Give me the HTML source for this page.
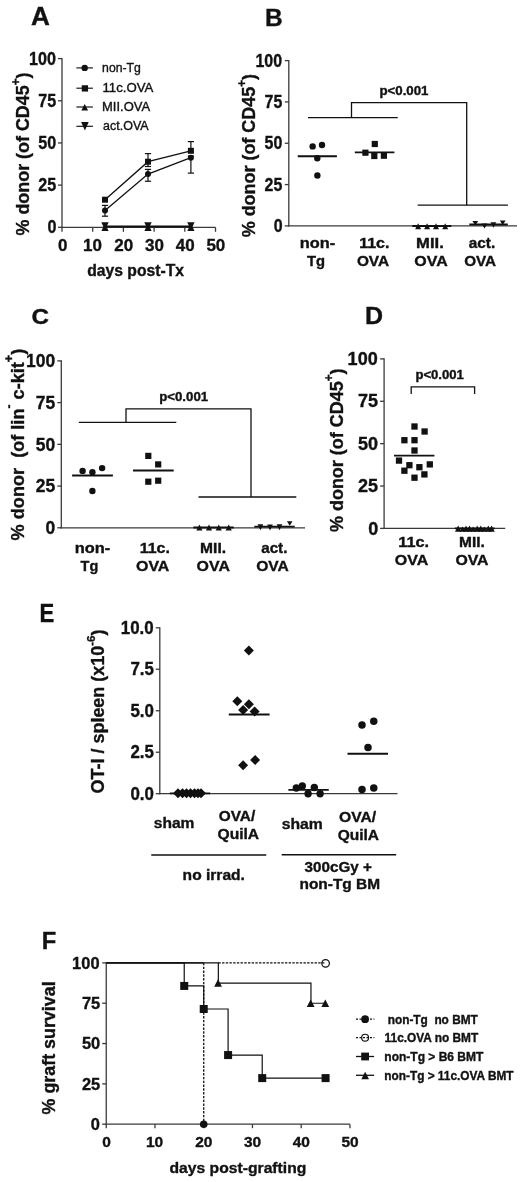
<!DOCTYPE html>
<html><head><meta charset="utf-8"><title>Figure</title>
<style>
html,body{margin:0;padding:0;background:#fff;}
svg{display:block;}
text{font-family:"Liberation Sans", Arial, sans-serif; fill:#111; stroke:#111; stroke-width:0.35px; paint-order:stroke;}
</style></head>
<body>
<svg width="520" height="1182" viewBox="0 0 520 1182">
<rect width="520" height="1182" fill="#fff"/>
<text x="31.08" y="25.00" font-size="25.5" font-weight="bold" textLength="18.86" lengthAdjust="spacingAndGlyphs">A</text>
<line x1="62.00" y1="58.00" x2="62.00" y2="227.90" stroke="#3a3a3a" stroke-width="1.3"/>
<line x1="58.00" y1="58.60" x2="62.00" y2="58.60" stroke="#3a3a3a" stroke-width="1.3"/>
<text x="29.02" y="64.73" font-size="17.5" font-weight="bold" textLength="26.87" lengthAdjust="spacingAndGlyphs">100</text>
<line x1="58.00" y1="100.77" x2="62.00" y2="100.77" stroke="#3a3a3a" stroke-width="1.3"/>
<text x="38.22" y="106.90" font-size="17.5" font-weight="bold" textLength="17.91" lengthAdjust="spacingAndGlyphs">75</text>
<line x1="58.00" y1="142.95" x2="62.00" y2="142.95" stroke="#3a3a3a" stroke-width="1.3"/>
<text x="38.22" y="149.08" font-size="17.5" font-weight="bold" textLength="17.91" lengthAdjust="spacingAndGlyphs">50</text>
<line x1="58.00" y1="185.12" x2="62.00" y2="185.12" stroke="#3a3a3a" stroke-width="1.3"/>
<text x="38.22" y="191.25" font-size="17.5" font-weight="bold" textLength="17.91" lengthAdjust="spacingAndGlyphs">25</text>
<line x1="58.00" y1="227.30" x2="62.00" y2="227.30" stroke="#3a3a3a" stroke-width="1.3"/>
<text x="47.42" y="233.43" font-size="17.5" font-weight="bold" textLength="8.96" lengthAdjust="spacingAndGlyphs">0</text>
<line x1="61.40" y1="227.30" x2="215.50" y2="227.30" stroke="#3a3a3a" stroke-width="1.3"/>
<line x1="62.00" y1="227.30" x2="62.00" y2="231.80" stroke="#3a3a3a" stroke-width="1.3"/>
<text x="57.90" y="250.50" font-size="17" font-weight="bold" textLength="9.47" lengthAdjust="spacingAndGlyphs">0</text>
<line x1="92.70" y1="227.30" x2="92.70" y2="231.80" stroke="#3a3a3a" stroke-width="1.3"/>
<text x="83.10" y="250.50" font-size="17" font-weight="bold" textLength="18.92" lengthAdjust="spacingAndGlyphs">10</text>
<line x1="123.40" y1="227.30" x2="123.40" y2="231.80" stroke="#3a3a3a" stroke-width="1.3"/>
<text x="114.30" y="250.50" font-size="17" font-weight="bold" textLength="18.92" lengthAdjust="spacingAndGlyphs">20</text>
<line x1="154.10" y1="227.30" x2="154.10" y2="231.80" stroke="#3a3a3a" stroke-width="1.3"/>
<text x="145.00" y="250.50" font-size="17" font-weight="bold" textLength="18.92" lengthAdjust="spacingAndGlyphs">30</text>
<line x1="184.80" y1="227.30" x2="184.80" y2="231.80" stroke="#3a3a3a" stroke-width="1.3"/>
<text x="175.70" y="250.50" font-size="17" font-weight="bold" textLength="18.92" lengthAdjust="spacingAndGlyphs">40</text>
<line x1="215.50" y1="227.30" x2="215.50" y2="231.80" stroke="#3a3a3a" stroke-width="1.3"/>
<text x="206.40" y="250.50" font-size="17" font-weight="bold" textLength="18.92" lengthAdjust="spacingAndGlyphs">50</text>
<text x="87.20" y="275.60" font-size="16" font-weight="bold" textLength="96.77" lengthAdjust="spacingAndGlyphs">days post-Tx</text>
<text x="-235.50" y="0" font-size="19" font-weight="bold" textLength="163.07" lengthAdjust="spacingAndGlyphs" transform="translate(29.00,0) rotate(-90)">% donor (of CD45<tspan font-size="12.5" dy="-9.5">+</tspan><tspan dy="9.5">)</tspan></text>
<line x1="76.40" y1="67.90" x2="92.90" y2="67.90" stroke="#111" stroke-width="1.15"/>
<circle cx="84.70" cy="67.90" r="3.2" fill="#111"/>
<line x1="76.40" y1="88.20" x2="92.90" y2="88.20" stroke="#111" stroke-width="1.15"/>
<rect x="81.75" y="85.25" width="6.3" height="6.3" fill="#111"/>
<line x1="76.40" y1="107.00" x2="92.90" y2="107.00" stroke="#111" stroke-width="1.15"/>
<polygon points="81.30,110.60 88.10,110.60 84.70,103.90" fill="#111"/>
<line x1="76.40" y1="126.30" x2="92.90" y2="126.30" stroke="#111" stroke-width="1.15"/>
<polygon points="81.10,122.00 88.70,122.00 84.90,130.50" fill="#111"/>
<text x="102.12" y="72.30" font-size="12.5" font-weight="normal" textLength="38.72" lengthAdjust="spacingAndGlyphs">non-Tg</text>
<text x="102.44" y="92.20" font-size="12.5" font-weight="normal" textLength="50.84" lengthAdjust="spacingAndGlyphs">11c.OVA</text>
<text x="102.06" y="111.40" font-size="12.5" font-weight="normal" textLength="48.01" lengthAdjust="spacingAndGlyphs">MII.OVA</text>
<text x="103.10" y="130.40" font-size="12.5" font-weight="normal" textLength="45.53" lengthAdjust="spacingAndGlyphs">act.OVA</text>
<polyline points="105.00,199.70 148.00,161.70 190.90,150.80" fill="none" stroke="#111" stroke-width="1.3"/>
<polyline points="105.00,210.40 148.00,174.10 190.90,157.70" fill="none" stroke="#111" stroke-width="1.3"/>
<line x1="105.00" y1="205.40" x2="105.00" y2="216.20" stroke="#111" stroke-width="1.2"/>
<line x1="101.90" y1="205.40" x2="108.10" y2="205.40" stroke="#111" stroke-width="1.2"/>
<line x1="101.90" y1="216.20" x2="108.10" y2="216.20" stroke="#111" stroke-width="1.2"/>
<line x1="148.00" y1="153.60" x2="148.00" y2="166.50" stroke="#111" stroke-width="1.2"/>
<line x1="144.90" y1="153.60" x2="151.10" y2="153.60" stroke="#111" stroke-width="1.2"/>
<line x1="144.90" y1="166.50" x2="151.10" y2="166.50" stroke="#111" stroke-width="1.2"/>
<line x1="148.00" y1="169.40" x2="148.00" y2="181.25" stroke="#111" stroke-width="1.2"/>
<line x1="144.90" y1="169.40" x2="151.10" y2="169.40" stroke="#111" stroke-width="1.2"/>
<line x1="144.90" y1="181.25" x2="151.10" y2="181.25" stroke="#111" stroke-width="1.2"/>
<line x1="190.90" y1="141.60" x2="190.90" y2="152.00" stroke="#111" stroke-width="1.2"/>
<line x1="187.80" y1="141.60" x2="194.00" y2="141.60" stroke="#111" stroke-width="1.2"/>
<line x1="187.80" y1="152.00" x2="194.00" y2="152.00" stroke="#111" stroke-width="1.2"/>
<line x1="190.90" y1="156.00" x2="190.90" y2="173.10" stroke="#111" stroke-width="1.2"/>
<line x1="187.80" y1="156.00" x2="194.00" y2="156.00" stroke="#111" stroke-width="1.2"/>
<line x1="187.80" y1="173.10" x2="194.00" y2="173.10" stroke="#111" stroke-width="1.2"/>
<rect x="102.00" y="196.70" width="6.0" height="6.0" fill="#111"/>
<rect x="145.00" y="158.70" width="6.0" height="6.0" fill="#111"/>
<rect x="187.90" y="147.80" width="6.0" height="6.0" fill="#111"/>
<circle cx="105.00" cy="210.40" r="3.0" fill="#111"/>
<circle cx="148.00" cy="174.10" r="3.0" fill="#111"/>
<circle cx="190.90" cy="157.70" r="3.0" fill="#111"/>
<line x1="105.00" y1="226.60" x2="190.90" y2="226.60" stroke="#111" stroke-width="2.0"/>
<polygon points="101.40,230.90 108.60,230.90 105.00,223.20" fill="#111"/>
<polygon points="101.30,222.20 108.70,222.20 105.00,229.90" fill="#111"/>
<polygon points="144.40,230.90 151.60,230.90 148.00,223.20" fill="#111"/>
<polygon points="144.30,222.20 151.70,222.20 148.00,229.90" fill="#111"/>
<polygon points="187.30,230.90 194.50,230.90 190.90,223.20" fill="#111"/>
<polygon points="187.20,222.20 194.60,222.20 190.90,229.90" fill="#111"/>
<text x="264.98" y="26.30" font-size="24" font-weight="bold" textLength="17.69" lengthAdjust="spacingAndGlyphs">B</text>
<line x1="288.80" y1="60.00" x2="288.80" y2="226.50" stroke="#3a3a3a" stroke-width="1.3"/>
<line x1="284.80" y1="60.60" x2="288.80" y2="60.60" stroke="#3a3a3a" stroke-width="1.3"/>
<text x="255.51" y="66.72" font-size="17.5" font-weight="bold" textLength="26.57" lengthAdjust="spacingAndGlyphs">100</text>
<line x1="284.80" y1="101.93" x2="288.80" y2="101.93" stroke="#3a3a3a" stroke-width="1.3"/>
<text x="264.61" y="108.05" font-size="17.5" font-weight="bold" textLength="17.72" lengthAdjust="spacingAndGlyphs">75</text>
<line x1="284.80" y1="143.25" x2="288.80" y2="143.25" stroke="#3a3a3a" stroke-width="1.3"/>
<text x="264.61" y="149.38" font-size="17.5" font-weight="bold" textLength="17.72" lengthAdjust="spacingAndGlyphs">50</text>
<line x1="284.80" y1="184.57" x2="288.80" y2="184.57" stroke="#3a3a3a" stroke-width="1.3"/>
<text x="264.61" y="190.70" font-size="17.5" font-weight="bold" textLength="17.72" lengthAdjust="spacingAndGlyphs">25</text>
<line x1="284.80" y1="225.90" x2="288.80" y2="225.90" stroke="#3a3a3a" stroke-width="1.3"/>
<text x="273.71" y="232.03" font-size="17.5" font-weight="bold" textLength="8.86" lengthAdjust="spacingAndGlyphs">0</text>
<line x1="288.20" y1="225.90" x2="517.00" y2="225.90" stroke="#3a3a3a" stroke-width="1.3"/>
<circle cx="312.65" cy="146.40" r="3.2" fill="#111"/>
<circle cx="322.00" cy="145.00" r="3.2" fill="#111"/>
<circle cx="317.30" cy="158.20" r="3.2" fill="#111"/>
<circle cx="317.40" cy="175.50" r="3.2" fill="#111"/>
<line x1="297.70" y1="156.30" x2="336.90" y2="156.30" stroke="#111" stroke-width="2.0"/>
<rect x="371.70" y="140.90" width="6.2" height="6.2" fill="#111"/>
<rect x="362.30" y="149.60" width="6.2" height="6.2" fill="#111"/>
<rect x="371.20" y="152.90" width="6.2" height="6.2" fill="#111"/>
<rect x="380.80" y="152.60" width="6.2" height="6.2" fill="#111"/>
<line x1="354.80" y1="152.30" x2="394.40" y2="152.30" stroke="#111" stroke-width="1.8"/>
<line x1="412.30" y1="226.00" x2="451.30" y2="226.00" stroke="#111" stroke-width="1.8"/>
<polygon points="415.10,229.20 421.10,229.20 418.10,223.20" fill="#111"/>
<polygon points="424.10,229.20 430.10,229.20 427.10,223.20" fill="#111"/>
<polygon points="433.00,229.20 439.00,229.20 436.00,223.20" fill="#111"/>
<polygon points="442.20,229.20 448.20,229.20 445.20,223.20" fill="#111"/>
<line x1="469.30" y1="224.50" x2="507.80" y2="224.50" stroke="#111" stroke-width="1.8"/>
<polygon points="472.40,221.00 478.20,221.00 475.30,225.60" fill="#111"/>
<polygon points="481.60,223.40 487.40,223.40 484.50,228.60" fill="#111"/>
<polygon points="490.50,222.30 496.30,222.30 493.40,227.80" fill="#111"/>
<polygon points="499.80,220.40 505.60,220.40 502.70,224.90" fill="#111"/>
<polyline points="308.00,117.60 397.70,117.60" fill="none" stroke="#111" stroke-width="1.3"/>
<polyline points="351.50,117.60 351.50,102.70 466.70,102.70 466.70,205.20" fill="none" stroke="#111" stroke-width="1.3"/>
<polyline points="417.70,205.20 507.90,205.20" fill="none" stroke="#111" stroke-width="1.3"/>
<text x="379.40" y="94.60" font-size="12" font-weight="bold" textLength="49.12" lengthAdjust="spacingAndGlyphs">p&lt;0.001</text>
<text x="299.83" y="248.20" font-size="14" font-weight="bold" textLength="35.35" lengthAdjust="spacingAndGlyphs">non-</text>
<text x="306.90" y="265.80" font-size="14" font-weight="bold" textLength="18.07" lengthAdjust="spacingAndGlyphs">Tg</text>
<text x="359.26" y="248.20" font-size="14" font-weight="bold" textLength="30.19" lengthAdjust="spacingAndGlyphs">11c.</text>
<text x="356.90" y="265.80" font-size="14" font-weight="bold" textLength="32.24" lengthAdjust="spacingAndGlyphs">OVA</text>
<text x="416.11" y="248.20" font-size="14" font-weight="bold" textLength="27.69" lengthAdjust="spacingAndGlyphs">MII.</text>
<text x="414.30" y="265.80" font-size="14" font-weight="bold" textLength="33.36" lengthAdjust="spacingAndGlyphs">OVA</text>
<text x="468.80" y="248.20" font-size="14" font-weight="bold" textLength="26.34" lengthAdjust="spacingAndGlyphs">act.</text>
<text x="464.20" y="265.80" font-size="14" font-weight="bold" textLength="31.94" lengthAdjust="spacingAndGlyphs">OVA</text>
<text x="-237.30" y="0" font-size="19" font-weight="bold" textLength="163.37" lengthAdjust="spacingAndGlyphs" transform="translate(255.20,0) rotate(-90)">% donor (of CD45<tspan font-size="12.5" dy="-9.2">+</tspan><tspan dy="9.2">)</tspan></text>
<text x="31.57" y="324.40" font-size="21.5" font-weight="bold" textLength="17.53" lengthAdjust="spacingAndGlyphs">C</text>
<line x1="61.30" y1="360.30" x2="61.30" y2="528.40" stroke="#3a3a3a" stroke-width="1.3"/>
<line x1="57.30" y1="360.90" x2="61.30" y2="360.90" stroke="#3a3a3a" stroke-width="1.3"/>
<text x="26.10" y="367.20" font-size="18" font-weight="bold" textLength="29.15" lengthAdjust="spacingAndGlyphs">100</text>
<line x1="57.30" y1="402.62" x2="61.30" y2="402.62" stroke="#3a3a3a" stroke-width="1.3"/>
<text x="35.80" y="408.93" font-size="18" font-weight="bold" textLength="19.43" lengthAdjust="spacingAndGlyphs">75</text>
<line x1="57.30" y1="444.35" x2="61.30" y2="444.35" stroke="#3a3a3a" stroke-width="1.3"/>
<text x="35.80" y="450.65" font-size="18" font-weight="bold" textLength="19.43" lengthAdjust="spacingAndGlyphs">50</text>
<line x1="57.30" y1="486.07" x2="61.30" y2="486.07" stroke="#3a3a3a" stroke-width="1.3"/>
<text x="35.80" y="492.37" font-size="18" font-weight="bold" textLength="19.43" lengthAdjust="spacingAndGlyphs">25</text>
<line x1="57.30" y1="527.80" x2="61.30" y2="527.80" stroke="#3a3a3a" stroke-width="1.3"/>
<text x="45.50" y="534.10" font-size="18" font-weight="bold" textLength="9.72" lengthAdjust="spacingAndGlyphs">0</text>
<line x1="60.70" y1="527.80" x2="305.00" y2="527.80" stroke="#3a3a3a" stroke-width="1.3"/>
<circle cx="82.60" cy="470.90" r="3.2" fill="#111"/>
<circle cx="92.40" cy="472.20" r="3.2" fill="#111"/>
<circle cx="102.10" cy="468.10" r="3.2" fill="#111"/>
<circle cx="92.40" cy="491.00" r="3.2" fill="#111"/>
<line x1="72.10" y1="475.60" x2="112.90" y2="475.60" stroke="#111" stroke-width="2.0"/>
<rect x="145.20" y="452.80" width="6.2" height="6.2" fill="#111"/>
<rect x="155.10" y="461.30" width="6.2" height="6.2" fill="#111"/>
<rect x="145.20" y="478.60" width="6.2" height="6.2" fill="#111"/>
<rect x="155.10" y="477.60" width="6.2" height="6.2" fill="#111"/>
<line x1="133.00" y1="470.50" x2="173.70" y2="470.50" stroke="#111" stroke-width="1.8"/>
<line x1="193.40" y1="527.50" x2="233.75" y2="527.50" stroke="#111" stroke-width="1.8"/>
<polygon points="196.30,530.60 202.50,530.60 199.40,524.40" fill="#111"/>
<polygon points="205.90,530.60 212.10,530.60 209.00,524.40" fill="#111"/>
<polygon points="215.65,530.60 221.85,530.60 218.75,524.40" fill="#111"/>
<polygon points="225.60,530.60 231.80,530.60 228.70,524.40" fill="#111"/>
<line x1="254.30" y1="526.70" x2="294.70" y2="526.70" stroke="#111" stroke-width="1.8"/>
<polygon points="257.60,524.20 263.20,524.20 260.40,530.20" fill="#111"/>
<polygon points="267.20,524.40 272.80,524.40 270.00,530.40" fill="#111"/>
<polygon points="276.70,524.20 282.30,524.20 279.50,530.20" fill="#111"/>
<polygon points="286.90,521.20 292.50,521.20 289.70,525.80" fill="#111"/>
<polyline points="78.80,422.30 176.30,422.30" fill="none" stroke="#111" stroke-width="1.3"/>
<polyline points="126.00,422.30 126.00,408.80 251.00,408.80 251.00,497.00" fill="none" stroke="#111" stroke-width="1.3"/>
<polyline points="198.50,497.00 296.30,497.00" fill="none" stroke="#111" stroke-width="1.3"/>
<text x="159.20" y="400.80" font-size="12" font-weight="bold" textLength="48.91" lengthAdjust="spacingAndGlyphs">p&lt;0.001</text>
<text x="74.73" y="553.20" font-size="14" font-weight="bold" textLength="35.45" lengthAdjust="spacingAndGlyphs">non-</text>
<text x="80.60" y="571.00" font-size="14" font-weight="bold" textLength="17.64" lengthAdjust="spacingAndGlyphs">Tg</text>
<text x="139.76" y="553.20" font-size="14" font-weight="bold" textLength="30.19" lengthAdjust="spacingAndGlyphs">11c.</text>
<text x="136.00" y="571.00" font-size="14" font-weight="bold" textLength="33.36" lengthAdjust="spacingAndGlyphs">OVA</text>
<text x="200.09" y="553.20" font-size="14" font-weight="bold" textLength="26.00" lengthAdjust="spacingAndGlyphs">MII.</text>
<text x="196.60" y="571.00" font-size="14" font-weight="bold" textLength="33.36" lengthAdjust="spacingAndGlyphs">OVA</text>
<text x="261.20" y="553.20" font-size="14" font-weight="bold" textLength="26.24" lengthAdjust="spacingAndGlyphs">act.</text>
<text x="256.20" y="571.00" font-size="14" font-weight="bold" textLength="32.65" lengthAdjust="spacingAndGlyphs">OVA</text>
<text x="-540.40" y="0" font-size="18.5" font-weight="bold" textLength="191.73" lengthAdjust="spacingAndGlyphs" transform="translate(24.20,0) rotate(-90)">% donor&#160;&#160;(of lin<tspan font-size="12.5" dy="-11">-</tspan><tspan dy="11"> c-kit</tspan><tspan font-size="13" dy="-11">+</tspan><tspan dy="11">)</tspan></text>
<text x="365.11" y="324.00" font-size="23" font-weight="bold" textLength="18.07" lengthAdjust="spacingAndGlyphs">D</text>
<line x1="384.10" y1="358.30" x2="384.10" y2="529.00" stroke="#3a3a3a" stroke-width="1.3"/>
<line x1="380.10" y1="358.90" x2="384.10" y2="358.90" stroke="#3a3a3a" stroke-width="1.3"/>
<text x="347.63" y="365.02" font-size="17.5" font-weight="bold" textLength="30.08" lengthAdjust="spacingAndGlyphs">100</text>
<line x1="380.10" y1="401.27" x2="384.10" y2="401.27" stroke="#3a3a3a" stroke-width="1.3"/>
<text x="357.93" y="407.40" font-size="17.5" font-weight="bold" textLength="20.05" lengthAdjust="spacingAndGlyphs">75</text>
<line x1="380.10" y1="443.65" x2="384.10" y2="443.65" stroke="#3a3a3a" stroke-width="1.3"/>
<text x="357.93" y="449.77" font-size="17.5" font-weight="bold" textLength="20.05" lengthAdjust="spacingAndGlyphs">50</text>
<line x1="380.10" y1="486.02" x2="384.10" y2="486.02" stroke="#3a3a3a" stroke-width="1.3"/>
<text x="357.93" y="492.15" font-size="17.5" font-weight="bold" textLength="20.05" lengthAdjust="spacingAndGlyphs">25</text>
<line x1="380.10" y1="528.40" x2="384.10" y2="528.40" stroke="#3a3a3a" stroke-width="1.3"/>
<text x="368.23" y="534.52" font-size="17.5" font-weight="bold" textLength="10.03" lengthAdjust="spacingAndGlyphs">0</text>
<line x1="383.50" y1="528.40" x2="505.20" y2="528.40" stroke="#3a3a3a" stroke-width="1.3"/>
<rect x="411.35" y="423.35" width="6.3" height="6.3" fill="#111"/>
<rect x="421.45" y="428.35" width="6.3" height="6.3" fill="#111"/>
<rect x="401.25" y="437.05" width="6.3" height="6.3" fill="#111"/>
<rect x="411.35" y="437.05" width="6.3" height="6.3" fill="#111"/>
<rect x="411.35" y="447.35" width="6.3" height="6.3" fill="#111"/>
<rect x="395.85" y="457.45" width="6.3" height="6.3" fill="#111"/>
<rect x="406.25" y="462.05" width="6.3" height="6.3" fill="#111"/>
<rect x="426.65" y="461.25" width="6.3" height="6.3" fill="#111"/>
<rect x="416.25" y="464.05" width="6.3" height="6.3" fill="#111"/>
<rect x="401.25" y="467.55" width="6.3" height="6.3" fill="#111"/>
<rect x="421.25" y="471.25" width="6.3" height="6.3" fill="#111"/>
<rect x="411.35" y="474.55" width="6.3" height="6.3" fill="#111"/>
<line x1="394.00" y1="455.60" x2="434.40" y2="455.60" stroke="#111" stroke-width="1.8"/>
<line x1="454.80" y1="528.40" x2="494.70" y2="528.40" stroke="#111" stroke-width="1.8"/>
<polygon points="455.00,531.80 461.40,531.80 458.20,525.60" fill="#111"/>
<polygon points="459.30,531.80 465.70,531.80 462.50,526.50" fill="#111"/>
<polygon points="462.80,531.80 469.20,531.80 466.00,525.60" fill="#111"/>
<polygon points="466.30,531.80 472.70,531.80 469.50,525.60" fill="#111"/>
<polygon points="469.90,531.80 476.30,531.80 473.10,526.50" fill="#111"/>
<polygon points="474.00,531.80 480.40,531.80 477.20,525.60" fill="#111"/>
<polygon points="477.60,531.80 484.00,531.80 480.80,525.60" fill="#111"/>
<polygon points="481.00,531.80 487.40,531.80 484.20,526.50" fill="#111"/>
<polygon points="485.10,531.80 491.50,531.80 488.30,525.60" fill="#111"/>
<polygon points="488.40,531.80 494.80,531.80 491.60,525.60" fill="#111"/>
<polyline points="411.20,394.00 411.20,386.90 474.60,386.90 474.60,394.00" fill="none" stroke="#111" stroke-width="1.3"/>
<text x="415.40" y="379.00" font-size="12" font-weight="bold" textLength="48.51" lengthAdjust="spacingAndGlyphs">p&lt;0.001</text>
<text x="398.24" y="546.80" font-size="14" font-weight="bold" textLength="30.83" lengthAdjust="spacingAndGlyphs">11c.</text>
<text x="394.80" y="564.80" font-size="14" font-weight="bold" textLength="33.46" lengthAdjust="spacingAndGlyphs">OVA</text>
<text x="459.10" y="546.80" font-size="14" font-weight="bold" textLength="25.78" lengthAdjust="spacingAndGlyphs">MII.</text>
<text x="455.40" y="564.80" font-size="14" font-weight="bold" textLength="33.15" lengthAdjust="spacingAndGlyphs">OVA</text>
<text x="-532.00" y="0" font-size="19" font-weight="bold" textLength="163.57" lengthAdjust="spacingAndGlyphs" transform="translate(342.60,0) rotate(-90)">% donor (of CD45<tspan font-size="12.5" dy="-9.5">+</tspan><tspan dy="9.5">)</tspan></text>
<text x="39.55" y="621.50" font-size="26" font-weight="bold" textLength="14.74" lengthAdjust="spacingAndGlyphs">E</text>
<line x1="159.80" y1="627.20" x2="159.80" y2="794.30" stroke="#3a3a3a" stroke-width="1.3"/>
<line x1="155.80" y1="627.80" x2="159.80" y2="627.80" stroke="#3a3a3a" stroke-width="1.3"/>
<text x="120.79" y="633.92" font-size="17.5" font-weight="bold" textLength="32.87" lengthAdjust="spacingAndGlyphs">10.0</text>
<line x1="155.80" y1="669.27" x2="159.80" y2="669.27" stroke="#3a3a3a" stroke-width="1.3"/>
<text x="130.44" y="675.40" font-size="17.5" font-weight="bold" textLength="23.48" lengthAdjust="spacingAndGlyphs">7.5</text>
<line x1="155.80" y1="710.75" x2="159.80" y2="710.75" stroke="#3a3a3a" stroke-width="1.3"/>
<text x="130.44" y="716.88" font-size="17.5" font-weight="bold" textLength="23.48" lengthAdjust="spacingAndGlyphs">5.0</text>
<line x1="155.80" y1="752.23" x2="159.80" y2="752.23" stroke="#3a3a3a" stroke-width="1.3"/>
<text x="130.44" y="758.35" font-size="17.5" font-weight="bold" textLength="23.48" lengthAdjust="spacingAndGlyphs">2.5</text>
<line x1="155.80" y1="793.70" x2="159.80" y2="793.70" stroke="#3a3a3a" stroke-width="1.3"/>
<text x="130.44" y="799.83" font-size="17.5" font-weight="bold" textLength="23.48" lengthAdjust="spacingAndGlyphs">0.0</text>
<line x1="159.20" y1="793.70" x2="397.50" y2="793.70" stroke="#3a3a3a" stroke-width="1.3"/>
<polygon points="178.00,788.30 183.00,793.30 178.00,798.30 173.00,793.30" fill="#111"/>
<polygon points="182.50,788.30 187.50,793.30 182.50,798.30 177.50,793.30" fill="#111"/>
<polygon points="186.50,788.30 191.50,793.30 186.50,798.30 181.50,793.30" fill="#111"/>
<polygon points="190.50,788.30 195.50,793.30 190.50,798.30 185.50,793.30" fill="#111"/>
<polygon points="194.50,788.30 199.50,793.30 194.50,798.30 189.50,793.30" fill="#111"/>
<polygon points="198.00,788.30 203.00,793.30 198.00,798.30 193.00,793.30" fill="#111"/>
<polygon points="201.00,788.30 206.00,793.30 201.00,798.30 196.00,793.30" fill="#111"/>
<line x1="169.80" y1="793.30" x2="210.20" y2="793.30" stroke="#111" stroke-width="1.8"/>
<polygon points="248.90,645.40 253.90,650.40 248.90,655.40 243.90,650.40" fill="#111"/>
<polygon points="237.30,696.20 242.30,701.20 237.30,706.20 232.30,701.20" fill="#111"/>
<polygon points="248.90,699.20 253.90,704.20 248.90,709.20 243.90,704.20" fill="#111"/>
<polygon points="243.10,704.90 248.10,709.90 243.10,714.90 238.10,709.90" fill="#111"/>
<polygon points="254.60,706.50 259.60,711.50 254.60,716.50 249.60,711.50" fill="#111"/>
<polygon points="255.10,755.00 260.10,760.00 255.10,765.00 250.10,760.00" fill="#111"/>
<polygon points="243.10,760.30 248.10,765.30 243.10,770.30 238.10,765.30" fill="#111"/>
<line x1="228.80" y1="714.50" x2="269.60" y2="714.50" stroke="#111" stroke-width="1.8"/>
<circle cx="296.30" cy="788.00" r="3.7" fill="#111"/>
<circle cx="302.30" cy="786.00" r="3.7" fill="#111"/>
<circle cx="308.10" cy="793.75" r="3.7" fill="#111"/>
<circle cx="314.30" cy="787.50" r="3.7" fill="#111"/>
<circle cx="320.10" cy="793.75" r="3.7" fill="#111"/>
<line x1="288.40" y1="789.90" x2="328.75" y2="789.90" stroke="#111" stroke-width="1.8"/>
<circle cx="362.00" cy="725.00" r="3.75" fill="#111"/>
<circle cx="373.75" cy="721.25" r="3.75" fill="#111"/>
<circle cx="368.00" cy="747.50" r="3.75" fill="#111"/>
<circle cx="362.00" cy="789.50" r="3.75" fill="#111"/>
<circle cx="373.75" cy="788.00" r="3.75" fill="#111"/>
<line x1="347.50" y1="753.75" x2="388.00" y2="753.75" stroke="#111" stroke-width="1.8"/>
<text x="153.75" y="828.25" font-size="14" font-weight="bold" textLength="40.64" lengthAdjust="spacingAndGlyphs">sham</text>
<text x="218.75" y="820.75" font-size="14" font-weight="bold" textLength="36.47" lengthAdjust="spacingAndGlyphs">OVA/</text>
<text x="217.50" y="838.75" font-size="14" font-weight="bold" textLength="41.63" lengthAdjust="spacingAndGlyphs">QuilA</text>
<text x="281.70" y="829.20" font-size="14" font-weight="bold" textLength="41.05" lengthAdjust="spacingAndGlyphs">sham</text>
<text x="339.10" y="821.70" font-size="14" font-weight="bold" textLength="37.13" lengthAdjust="spacingAndGlyphs">OVA/</text>
<text x="337.70" y="840.00" font-size="14" font-weight="bold" textLength="41.38" lengthAdjust="spacingAndGlyphs">QuilA</text>
<line x1="151.25" y1="855.00" x2="266.25" y2="855.00" stroke="#111" stroke-width="1.4"/>
<line x1="281.70" y1="854.80" x2="396.20" y2="854.80" stroke="#111" stroke-width="1.4"/>
<text x="182.64" y="880.00" font-size="14" font-weight="bold" textLength="62.24" lengthAdjust="spacingAndGlyphs">no irrad.</text>
<text x="304.60" y="871.80" font-size="14" font-weight="bold" textLength="67.18" lengthAdjust="spacingAndGlyphs">300cGy +</text>
<text x="299.50" y="889.00" font-size="14" font-weight="bold" textLength="80.61" lengthAdjust="spacingAndGlyphs">non-Tg BM</text>
<text x="-793.40" y="0" font-size="18" font-weight="bold" textLength="163.80" lengthAdjust="spacingAndGlyphs" transform="translate(103.50,0) rotate(-90)">OT-I / spleen (x10<tspan font-size="11.5" dy="-8.7">-6</tspan><tspan dy="8.7">)</tspan></text>
<text x="41.73" y="948.80" font-size="24.5" font-weight="bold" textLength="14.51" lengthAdjust="spacingAndGlyphs">F</text>
<line x1="106.25" y1="962.30" x2="106.25" y2="1124.80" stroke="#3a3a3a" stroke-width="1.3"/>
<line x1="102.25" y1="962.90" x2="106.25" y2="962.90" stroke="#3a3a3a" stroke-width="1.3"/>
<text x="72.11" y="968.78" font-size="16.8" font-weight="bold" textLength="27.44" lengthAdjust="spacingAndGlyphs">100</text>
<line x1="102.25" y1="1003.23" x2="106.25" y2="1003.23" stroke="#3a3a3a" stroke-width="1.3"/>
<text x="81.91" y="1009.11" font-size="16.8" font-weight="bold" textLength="18.30" lengthAdjust="spacingAndGlyphs">75</text>
<line x1="102.25" y1="1043.55" x2="106.25" y2="1043.55" stroke="#3a3a3a" stroke-width="1.3"/>
<text x="81.91" y="1049.43" font-size="16.8" font-weight="bold" textLength="18.30" lengthAdjust="spacingAndGlyphs">50</text>
<line x1="102.25" y1="1083.88" x2="106.25" y2="1083.88" stroke="#3a3a3a" stroke-width="1.3"/>
<text x="81.91" y="1089.76" font-size="16.8" font-weight="bold" textLength="18.30" lengthAdjust="spacingAndGlyphs">25</text>
<line x1="102.25" y1="1124.20" x2="106.25" y2="1124.20" stroke="#3a3a3a" stroke-width="1.3"/>
<text x="90.73" y="1130.08" font-size="16.8" font-weight="bold" textLength="9.16" lengthAdjust="spacingAndGlyphs">0</text>
<line x1="105.65" y1="1124.20" x2="349.95" y2="1124.20" stroke="#3a3a3a" stroke-width="1.3"/>
<line x1="106.25" y1="1124.20" x2="106.25" y2="1128.20" stroke="#3a3a3a" stroke-width="1.3"/>
<text x="102.25" y="1147.00" font-size="15.5" font-weight="bold" textLength="8.62" lengthAdjust="spacingAndGlyphs">0</text>
<line x1="154.99" y1="1124.20" x2="154.99" y2="1128.20" stroke="#3a3a3a" stroke-width="1.3"/>
<text x="145.99" y="1147.00" font-size="15.5" font-weight="bold" textLength="17.25" lengthAdjust="spacingAndGlyphs">10</text>
<line x1="203.73" y1="1124.20" x2="203.73" y2="1128.20" stroke="#3a3a3a" stroke-width="1.3"/>
<text x="195.23" y="1147.00" font-size="15.5" font-weight="bold" textLength="17.25" lengthAdjust="spacingAndGlyphs">20</text>
<line x1="252.47" y1="1124.20" x2="252.47" y2="1128.20" stroke="#3a3a3a" stroke-width="1.3"/>
<text x="243.97" y="1147.00" font-size="15.5" font-weight="bold" textLength="17.25" lengthAdjust="spacingAndGlyphs">30</text>
<line x1="301.21" y1="1124.20" x2="301.21" y2="1128.20" stroke="#3a3a3a" stroke-width="1.3"/>
<text x="292.71" y="1147.00" font-size="15.5" font-weight="bold" textLength="17.25" lengthAdjust="spacingAndGlyphs">40</text>
<line x1="349.95" y1="1124.20" x2="349.95" y2="1128.20" stroke="#3a3a3a" stroke-width="1.3"/>
<text x="341.45" y="1147.00" font-size="15.5" font-weight="bold" textLength="17.25" lengthAdjust="spacingAndGlyphs">50</text>
<text x="169.50" y="1173.00" font-size="15.5" font-weight="bold" textLength="136.82" lengthAdjust="spacingAndGlyphs">days post-grafting</text>
<text x="-1114.40" y="0" font-size="18" font-weight="bold" textLength="133.05" lengthAdjust="spacingAndGlyphs" transform="translate(55.20,0) rotate(-90)">% graft survival</text>
<polyline points="106.25,962.90 203.73,962.90" fill="none" stroke="#111" stroke-width="1.2"/>
<line x1="203.73" y1="962.90" x2="203.73" y2="1124.20" stroke="#111" stroke-width="1.3" stroke-dasharray="2.4,1.4"/>
<line x1="218.35" y1="962.90" x2="324.58" y2="962.90" stroke="#111" stroke-width="1.3" stroke-dasharray="2.4,1.3"/>
<circle cx="325.58" cy="963.30" r="3.8" fill="none" stroke="#111" stroke-width="1.25"/>
<circle cx="203.73" cy="1124.20" r="3.8" fill="#111"/>
<polyline points="106.25,962.90 184.23,962.90 184.23,962.90 184.23,985.94 203.73,985.94 203.73,1008.99 228.10,1008.99 228.10,1055.07 262.22,1055.07 262.22,1078.11 325.58,1078.11 325.58,1078.11" fill="none" stroke="#111" stroke-width="1.2"/>
<rect x="180.23" y="981.94" width="8" height="8" fill="#111"/>
<rect x="199.73" y="1004.99" width="8" height="8" fill="#111"/>
<rect x="224.10" y="1051.07" width="8" height="8" fill="#111"/>
<rect x="258.22" y="1074.11" width="8" height="8" fill="#111"/>
<rect x="321.58" y="1074.11" width="8" height="8" fill="#111"/>
<polyline points="106.25,962.90 218.35,962.90 218.35,983.06 310.96,983.06 310.96,1003.23 325.58,1003.23 325.58,1003.23" fill="none" stroke="#111" stroke-width="1.2"/>
<polygon points="214.15,986.86 221.95,986.86 218.05,979.26" fill="#111"/>
<polygon points="306.76,1007.02 314.56,1007.02 310.66,999.43" fill="#111"/>
<polygon points="321.38,1007.02 329.18,1007.02 325.28,999.43" fill="#111"/>
<line x1="356.00" y1="1019.20" x2="374.40" y2="1019.20" stroke="#111" stroke-width="1.2" stroke-dasharray="2,1.5"/>
<circle cx="365.10" cy="1019.20" r="3.9" fill="#111"/>
<line x1="356.00" y1="1037.70" x2="374.40" y2="1037.70" stroke="#111" stroke-width="1.2" stroke-dasharray="2,1.5"/>
<circle cx="365.10" cy="1037.70" r="3.45" fill="none" stroke="#111" stroke-width="1.2"/>
<line x1="356.00" y1="1056.50" x2="374.10" y2="1056.50" stroke="#111" stroke-width="1.3"/>
<rect x="361.20" y="1052.60" width="7.8" height="7.8" fill="#111"/>
<line x1="356.00" y1="1075.30" x2="374.10" y2="1075.30" stroke="#111" stroke-width="1.3"/>
<polygon points="361.30,1079.20 369.00,1079.20 365.15,1071.80" fill="#111"/>
<text x="387.70" y="1023.70" font-size="12" font-weight="bold" textLength="90.12" lengthAdjust="spacingAndGlyphs">non-Tg&#160; no BMT</text>
<text x="384.60" y="1041.90" font-size="12" font-weight="bold" textLength="93.59" lengthAdjust="spacingAndGlyphs">11c.OVA no BMT</text>
<text x="384.30" y="1060.90" font-size="12" font-weight="bold" textLength="99.10" lengthAdjust="spacingAndGlyphs">non-Tg &gt; B6 BMT</text>
<text x="384.30" y="1080.00" font-size="12" font-weight="bold" textLength="129.22" lengthAdjust="spacingAndGlyphs">non-Tg &gt; 11c.OVA BMT</text>
</svg>
</body></html>
